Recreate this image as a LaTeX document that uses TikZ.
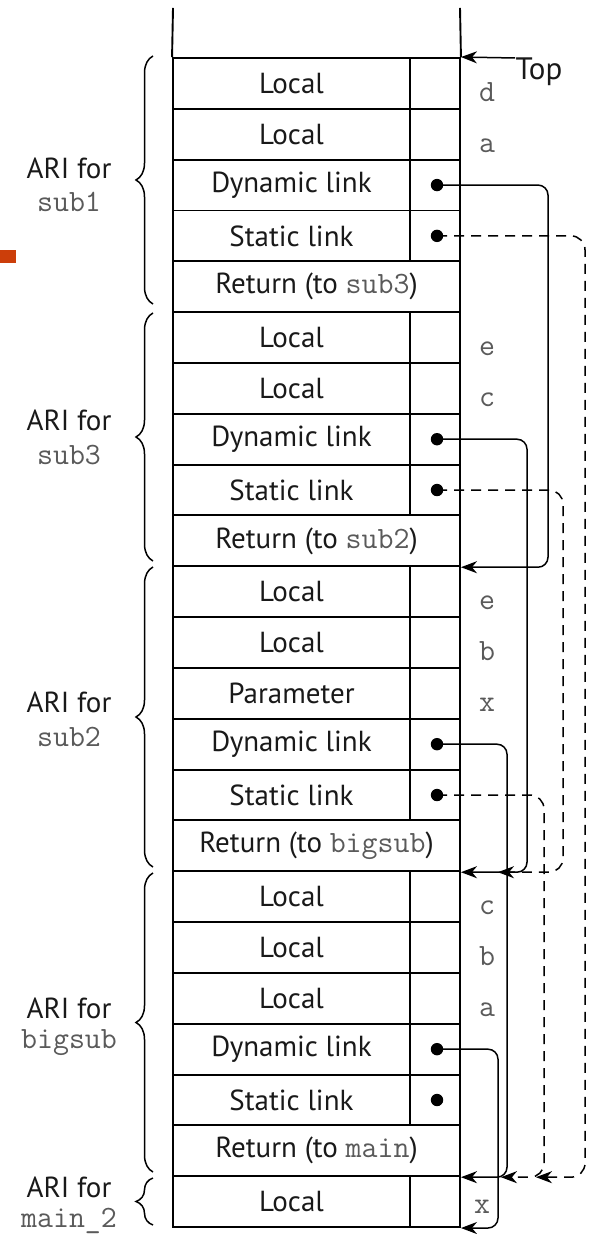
\documentclass[tikz,border=0pt]{standalone}
\usepackage{fontspec}
\setmainfont{PT Sans}
\newcommand{\codefont}{\ttfamily}
\usetikzlibrary{arrows.meta,decorations.pathreplacing,calc}
\definecolor{accent}{RGB}{204,62,10}
\definecolor{codegray}{RGB}{90,90,90}
\begin{document}
\begin{tikzpicture}[x=0.5pt,y=-0.5pt,
  lbl/.style={font=\fontsize{14.5}{16}\selectfont, text=black!90},
  cell/.style={draw, line width=0.95pt, minimum width=118.5pt, minimum height=25.4pt, inner sep=0pt, lbl},
  slot/.style={draw, line width=0.95pt, minimum width=25pt, minimum height=25.4pt, inner sep=0pt},
  ret/.style={draw, line width=0.95pt, minimum width=143.5pt, minimum height=25.4pt, inner sep=0pt, lbl},
  code/.style={font=\codefont\fontsize{15.5}{17}\selectfont, text=codegray},
  var/.style={code, anchor=base, inner sep=0pt},
  dot/.style={circle, fill=black, inner sep=0pt, minimum size=6.2pt},
  dyn/.style={line width=0.75pt, rounded corners=5pt, -{Stealth[length=8pt,width=6pt,inset=2.5pt]}},
  stat/.style={dyn, rounded corners=7pt, dash pattern=on 5pt off 3.5pt},
  bracestyle/.style={line width=0.75pt, decorate, decoration={brace, amplitude=8.5pt}}
]
\useasboundingbox (0,0) rectangle (590,1234);
\fill[accent] (0,250) rectangle (16,263);
% open top of stack
\coordinate (tl) at (173,8);
\coordinate (tr) at (460,8);
% rows
\foreach \i/\t in {0/Local,1/Local,2/Dynamic link,3/Static link,5/Local,6/Local,7/Dynamic link,8/Static link,10/Local,11/Local,12/Parameter,13/Dynamic link,14/Static link,16/Local,17/Local,18/Local,19/Dynamic link,20/Static link,22/Local}
{
  \node[cell] (c\i) at (291.5,{83.4+50.83*\i}) {\t};
  \node[slot] (s\i) at (435,{83.4+50.83*\i}) {};
}
\foreach \i/\t in {4/sub3,9/sub2,15/bigsub,21/main}
{
  \node[ret] (r\i) at (316.5,{83.4+50.83*\i}) {Return (to {\codefont\fontsize{15.5}{17}\selectfont\color{codegray}\t})};
}
\draw[line width=0.95pt] (tl) -- (c0.north west);
\draw[line width=0.95pt] (tr) -- (s0.north east);
% dots
\foreach \i in {2,3,7,8,13,14,19,20}
  \node[dot] (d\i) at (437,{83.4+50.83*\i}) {};
% variable names
\foreach \i/\v in {0/d,1/a,5/e,6/c,10/e,11/b,12/x,16/c,17/b,18/a}
  \node[var] (v\i) at (487,{83.4+50.83*\i+18}) {\v};
\node[var] (v22) at (482,1213) {x};
% top pointer
\node[lbl, font=\fontsize{15.5}{16}\selectfont] (top) at (539,72) {Top};
\coordinate (topstart) at (515,58);
\draw[dyn] (topstart) -- (s0.north east);
% braces and labels
\draw[bracestyle] (153,304) -- (153,56);
\draw[bracestyle] (153,561) -- (153,313);
\draw[bracestyle] (153,867) -- (153,567);
\draw[bracestyle] (153,1172) -- (153,873);
\draw[bracestyle] (153,1225) -- (153,1178);
\node[lbl] (a1) at (69,168) {ARI for};
\node[code] (n1) at (69,202) {sub1};
\node[lbl] (a3) at (69,420) {ARI for};
\node[code] (n3) at (69,455) {sub3};
\node[lbl] (a2) at (69,702) {ARI for};
\node[code] (n2) at (69,737) {sub2};
\node[lbl] (ab) at (69,1008) {ARI for};
\node[code] (nb) at (69,1043) {bigsub};
\node[lbl, inner sep=1pt] (am) at (69,1187) {ARI for};
\node[code, inner sep=1pt] (nm) at (69,1221) {main\textunderscore 2};
% links
\draw[dyn] (d2.center) -- ++(111,0) |- (r9.south east);
\draw[stat] (d3.center) -- ++(148,0) |- ($(r21.south east)+(75,0)$);
\draw[dyn] (d7.center) -- ++(90,0) |- (r15.south east);
\draw[stat] (d8.center) -- ++(126,0) |- ($(r15.south east)+(37,0)$);
\draw[dyn] (d13.center) -- ++(70,0) |- (r21.south east);
\draw[stat] (d14.center) -- ++(107,0) |- ($(r21.south east)+(40,0)$);
\draw[dyn] (d19.center) -- ++(61,0) |- (s22.south east);
\end{tikzpicture}
\end{document}
